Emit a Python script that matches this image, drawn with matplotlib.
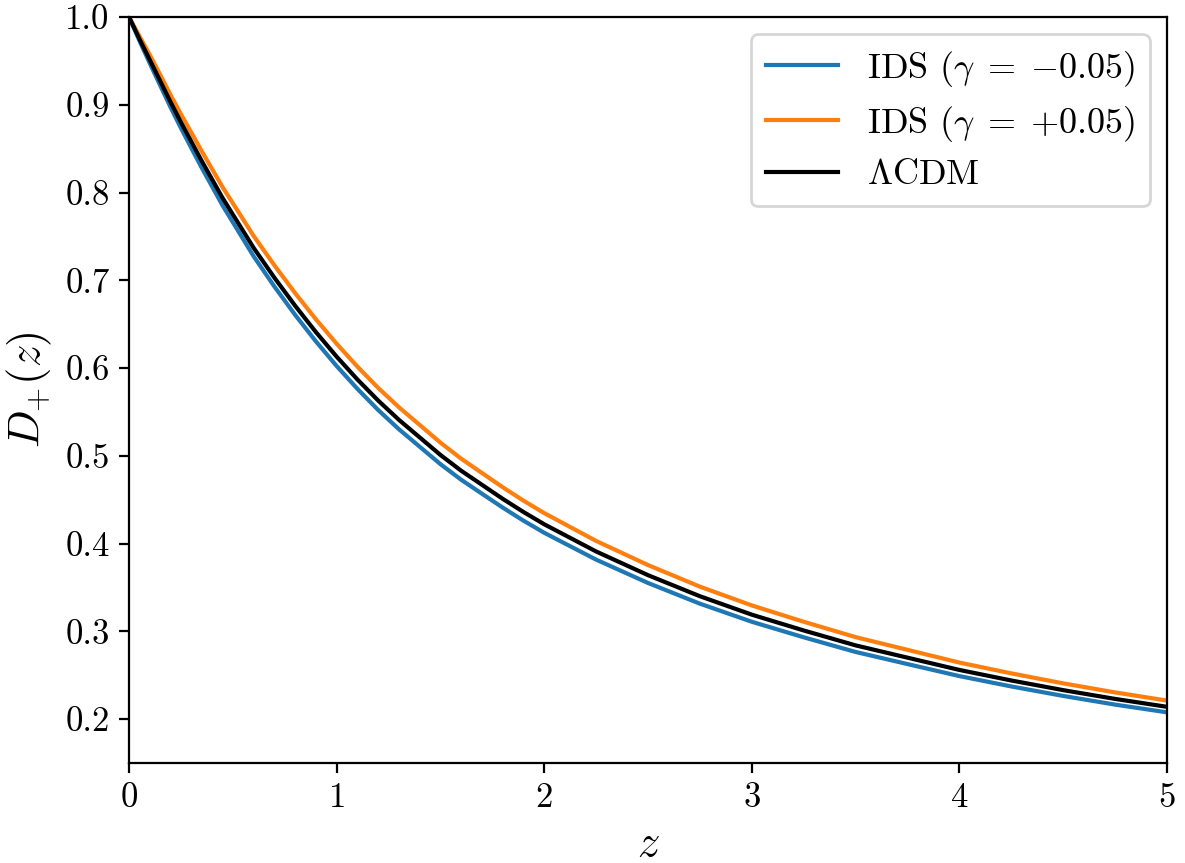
import matplotlib
matplotlib.use("Agg")
import matplotlib.pyplot as plt

plt.rcParams['font.family'] = 'serif'
plt.rcParams['font.serif'] = ['cmr10', 'DejaVu Serif']
plt.rcParams['mathtext.fontset'] = 'cm'
plt.rcParams['axes.formatter.use_mathtext'] = True

z = [0.0, 0.05, 0.1, 0.15, 0.2, 0.25, 0.3, 0.35, 0.4, 0.45, 0.5, 0.6, 0.7,
     0.8, 0.9, 1.0, 1.1, 1.2, 1.3, 1.4, 1.5, 1.6, 1.7, 1.8, 1.9, 2.0, 2.25,
     2.5, 2.75, 3.0, 3.25, 3.5, 3.75, 4.0, 4.25, 4.5, 4.75, 5.0]
D_lcdm = [1.0, 0.975, 0.951, 0.927, 0.903, 0.880, 0.858, 0.836, 0.815, 0.794,
          0.775, 0.737, 0.703, 0.671, 0.641, 0.613, 0.587, 0.563, 0.541, 0.521,
          0.501, 0.483, 0.467, 0.451, 0.436, 0.422, 0.391, 0.364, 0.340, 0.319,
          0.301, 0.284, 0.270, 0.256, 0.244, 0.233, 0.223, 0.214]
D_ids_minus = [1.0, 0.9729, 0.9472, 0.9221, 0.8971, 0.8734, 0.8507, 0.8282,
               0.8069, 0.7854, 0.7661, 0.7274, 0.6929, 0.6606, 0.6304, 0.6023,
               0.5763, 0.5522, 0.5303, 0.5104, 0.4905, 0.4727, 0.4568, 0.4410,
               0.4261, 0.4123, 0.3817, 0.3551, 0.3315, 0.3109, 0.2932, 0.2765,
               0.2627, 0.2490, 0.2372, 0.2264, 0.2165, 0.2077]
D_ids_plus = [1.0, 0.9782, 0.9567, 0.9342, 0.9111, 0.8892, 0.8683, 0.8471,
              0.8268, 0.8063, 0.7878, 0.7506, 0.7171, 0.6854, 0.6556, 0.6277,
              0.6016, 0.5774, 0.5553, 0.5352, 0.5150, 0.4967, 0.4804, 0.4642,
              0.4489, 0.4347, 0.4030, 0.3755, 0.3509, 0.3295, 0.3109, 0.2934,
              0.2789, 0.2644, 0.2521, 0.2407, 0.2304, 0.2211]

labels = [r'IDS ($\gamma\;=\;{-0.05}$)', r'IDS ($\gamma\;=\;{+0.05}$)', r'$\Lambda$CDM']
colors = ['#1f77b4', '#ff7f0e', 'black']

fig = plt.figure(figsize=(5.925, 4.315), dpi=200)
ax = fig.add_axes([0.1089, 0.1159, 0.9848 - 0.1089, 0.9803 - 0.1159])

for y, lab, c in zip([D_ids_minus, D_ids_plus, D_lcdm], labels, colors):
    ax.plot(z, y, color=c, lw=1.5, label=lab)

ax.set_xlim(0, 5)
ax.set_ylim(0.15, 1.0)
ax.set_xticks([0, 1, 2, 3, 4, 5])
ax.set_yticks([0.2, 0.3, 0.4, 0.5, 0.6, 0.7, 0.8, 0.9, 1.0])
ax.set_yticklabels(['0.2', '0.3', '0.4', '0.5', '0.6', '0.7', '0.8', '0.9', '1.0'])
ax.tick_params(labelsize=12.5)
ax.set_xlabel(r'$z$', fontsize=16)
ax.set_ylabel(r'$D_{+}(z)$', fontsize=16)
ax.legend(loc='upper right', fontsize=13, labelspacing=0.42,
          borderaxespad=0.48)

fig.savefig('out.png', dpi=200)
